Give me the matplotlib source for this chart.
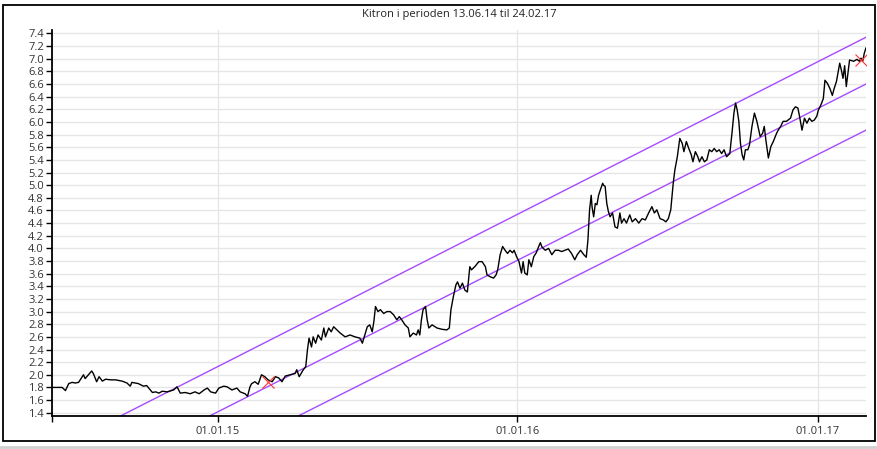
import matplotlib
matplotlib.use("Agg")
import matplotlib.pyplot as plt
import numpy as np
import pandas as pd
from matplotlib.lines import Line2D
from matplotlib.patches import Rectangle

# --- data --------------------------------------------------------------
START_DATE = "2014-06-13"
TITLE = "Kitron i perioden 13.06.14 til 24.02.17"

# days after START_DATE, closing price
price_days = [
    0, 12, 16, 20, 24, 28, 32, 38, 40, 44, 48, 50, 54, 57, 61, 65, 71, 77, 85, 91,
    95, 97, 105, 111, 115, 122, 126, 130, 134, 140, 148, 152, 156, 162, 168, 174, 179, 185, 189, 193,
    199, 203, 209, 213, 219, 225, 229, 235, 238, 241, 243, 247, 251, 255, 259, 263, 268, 272, 276, 280,
    284, 290, 296, 298, 301, 306, 309, 311, 313, 316, 318, 321, 324, 328, 331, 333, 337, 340, 343, 347,
    351, 357, 363, 369, 375, 378, 381, 384, 387, 390, 392, 394, 397, 400, 404, 408, 412, 416, 420, 423,
    426, 430, 434, 436, 440, 444, 446, 448, 450, 452, 455, 457, 459, 463, 469, 475, 481, 484, 486, 489,
    492, 494, 497, 500, 503, 506, 509, 511, 515, 520, 524, 528, 530, 534, 538, 541, 543, 546, 549, 552,
    555, 558, 561, 563, 566, 569, 572, 574, 576, 579, 581, 584, 587, 590, 593, 595, 597, 601, 605, 609,
    613, 617, 621, 625, 629, 633, 637, 640, 644, 648, 651, 653, 655, 657, 658, 660, 662, 664, 666, 668,
    671, 672, 674, 676, 678, 680, 683, 686, 689, 692, 694, 697, 700, 704, 707, 711, 715, 719, 723, 727,
    731, 734, 737, 741, 745, 748, 751, 754, 757, 759, 762, 765, 768, 770, 773, 776, 779, 781, 784, 787,
    789, 792, 795, 798, 801, 804, 807, 810, 813, 816, 819, 822, 826, 829, 831, 833, 835, 837, 839, 841,
    843, 845, 848, 850, 853, 856, 859, 863, 866, 868, 870, 873, 876, 879, 883, 885, 888, 891, 895, 900,
    903, 906, 909, 911, 914, 917, 920, 923, 926, 929, 932, 934, 936, 938, 940, 942, 945, 948, 951, 953,
    956, 960, 962, 964, 966, 968, 970, 972, 977, 981, 984, 986, 988, 990, 992,
]
price_values = [
    1.80, 1.80, 1.75, 1.86, 1.88, 1.87, 1.88, 2.00, 1.94, 2.00, 2.06, 2.02, 1.89, 1.97, 1.90, 1.93, 1.92, 1.92, 1.90, 1.87,
    1.82, 1.88, 1.86, 1.82, 1.83, 1.72, 1.73, 1.71, 1.74, 1.73, 1.76, 1.81, 1.71, 1.72, 1.70, 1.73, 1.70, 1.76, 1.79, 1.73,
    1.71, 1.79, 1.82, 1.81, 1.76, 1.79, 1.73, 1.70, 1.66, 1.81, 1.86, 1.89, 1.85, 2.00, 1.97, 1.92, 1.89, 1.97, 1.95, 1.89,
    1.98, 2.00, 2.02, 2.08, 1.97, 2.08, 2.13, 2.39, 2.58, 2.44, 2.60, 2.50, 2.63, 2.55, 2.74, 2.60, 2.74, 2.68, 2.76, 2.71,
    2.66, 2.60, 2.63, 2.60, 2.58, 2.50, 2.63, 2.76, 2.79, 2.68, 2.84, 3.08, 3.00, 3.03, 2.97, 3.00, 3.00, 2.95, 2.87, 2.92,
    2.87, 2.79, 2.74, 2.60, 2.66, 2.63, 2.71, 2.63, 2.87, 3.03, 3.08, 2.87, 2.74, 2.79, 2.74, 2.72, 2.71, 2.74, 3.03, 3.24,
    3.42, 3.47, 3.37, 3.45, 3.34, 3.31, 3.71, 3.66, 3.71, 3.79, 3.79, 3.71, 3.58, 3.55, 3.53, 3.58, 3.66, 3.90, 4.03, 3.97,
    3.92, 3.97, 3.93, 3.97, 3.87, 3.79, 3.61, 3.79, 3.61, 3.58, 3.82, 3.71, 3.87, 3.93, 4.03, 4.09, 4.02, 3.97, 4.00, 3.90,
    3.97, 3.97, 3.95, 3.97, 3.99, 3.92, 3.82, 3.90, 3.97, 3.90, 3.86, 4.13, 4.61, 4.84, 4.66, 4.50, 4.71, 4.69, 4.84, 4.92,
    5.03, 5.00, 4.98, 4.71, 4.58, 4.50, 4.56, 4.34, 4.32, 4.56, 4.40, 4.47, 4.40, 4.53, 4.42, 4.47, 4.40, 4.47, 4.45, 4.56,
    4.66, 4.56, 4.61, 4.47, 4.45, 4.42, 4.47, 4.61, 5.03, 5.24, 5.45, 5.74, 5.66, 5.53, 5.69, 5.58, 5.48, 5.37, 5.53, 5.45,
    5.37, 5.45, 5.37, 5.40, 5.56, 5.53, 5.58, 5.53, 5.56, 5.50, 5.56, 5.45, 5.50, 5.87, 6.14, 6.30, 6.19, 6.01, 5.66, 5.48,
    5.40, 5.56, 5.56, 5.64, 5.93, 6.14, 6.01, 5.77, 5.82, 5.93, 5.71, 5.43, 5.61, 5.69, 5.82, 5.87, 5.93, 6.01, 6.01, 6.06,
    6.19, 6.24, 6.22, 6.09, 5.87, 6.06, 5.98, 6.06, 6.01, 6.03, 6.09, 6.19, 6.24, 6.30, 6.37, 6.66, 6.61, 6.53, 6.42, 6.52,
    6.64, 6.93, 6.82, 6.69, 6.89, 6.56, 6.77, 6.98, 6.96, 6.99, 6.96, 7.01, 6.96, 7.09, 7.17,
]

# trend channel (ends of the three straight lines)
channel_days = [0, 992]
channel_upper = [0.80, 7.34]
channel_mid = [0.09, 6.60]
channel_lower = [-0.61, 5.87]

# red crosses at the two anchor points
marker_days = [263, 986]
marker_values = [1.89, 6.98]

tick_dates = ["2015-01-01", "2016-01-01", "2017-01-01"]
tick_labels = ["01.01.15", "01.01.16", "01.01.17"]
y_ticks = np.round(np.arange(1.4, 7.41, 0.2), 1)


def to_dates(days):
    return pd.Timestamp(START_DATE) + pd.to_timedelta(days, unit="D")


def main() -> None:
    plt.rcParams.update({"font.family": ["Open Sans", "DejaVu Sans"]})

    fig = plt.figure(figsize=(8.78, 4.49), dpi=100)
    ax = fig.add_axes([0.0596, 0.0735, 0.9267, 0.8597])

    purple = "#a64bff"
    ch_x = to_dates(channel_days)
    for vals in (channel_upper, channel_mid, channel_lower):
        ax.plot(ch_x, vals, color=purple, linewidth=1.0, zorder=2)

    ax.plot(to_dates(price_days), price_values, color="black", linewidth=1.0, zorder=3)
    ax.plot(to_dates(marker_days), marker_values, linestyle="none", marker="x",
            markersize=8, markeredgewidth=0.8, color="#ff3333", zorder=4)

    x0 = to_dates([price_days[0]])[0]
    x1 = to_dates([price_days[-1]])[0]
    ax.set_xlim(x0, x1)
    ax.set_ylim(1.348, 7.455)

    xt = [x0] + [pd.Timestamp(d) for d in tick_dates]
    ax.set_xticks(xt)
    ax.set_xticklabels([""] + tick_labels)
    ax.set_yticks(y_ticks)
    ax.set_yticklabels([f"{v:.1f}" for v in y_ticks])

    ax.grid(True, color="#e6e6e6", linewidth=1.0, zorder=0)
    ax.set_axisbelow(True)
    for side in ("top", "right"):
        ax.spines[side].set_visible(False)
    for side in ("left", "bottom"):
        ax.spines[side].set_linewidth(1.3)
        ax.spines[side].set_color("black")
    ax.tick_params(axis="both", direction="out", length=4, width=1.0,
                   labelsize=8, labelcolor="#333333", pad=2)
    ax.tick_params(axis="x", pad=3)

    ax.set_title(TITLE, fontsize=8, color="#222222", pad=9)

    # outer frame and bottom separator
    fig.patches.append(Rectangle((3 / 878, 1 - 441 / 449), 872 / 878, 436 / 449,
                                 transform=fig.transFigure, fill=False,
                                 edgecolor="black", linewidth=1.3))
    fig.lines.append(Line2D([0, 1], [1 - 447 / 449] * 2, transform=fig.transFigure,
                            color="#d0d0d0", linewidth=2))

    fig.savefig("out.png", dpi=100)
    plt.close(fig)


if __name__ == "__main__":
    main()
